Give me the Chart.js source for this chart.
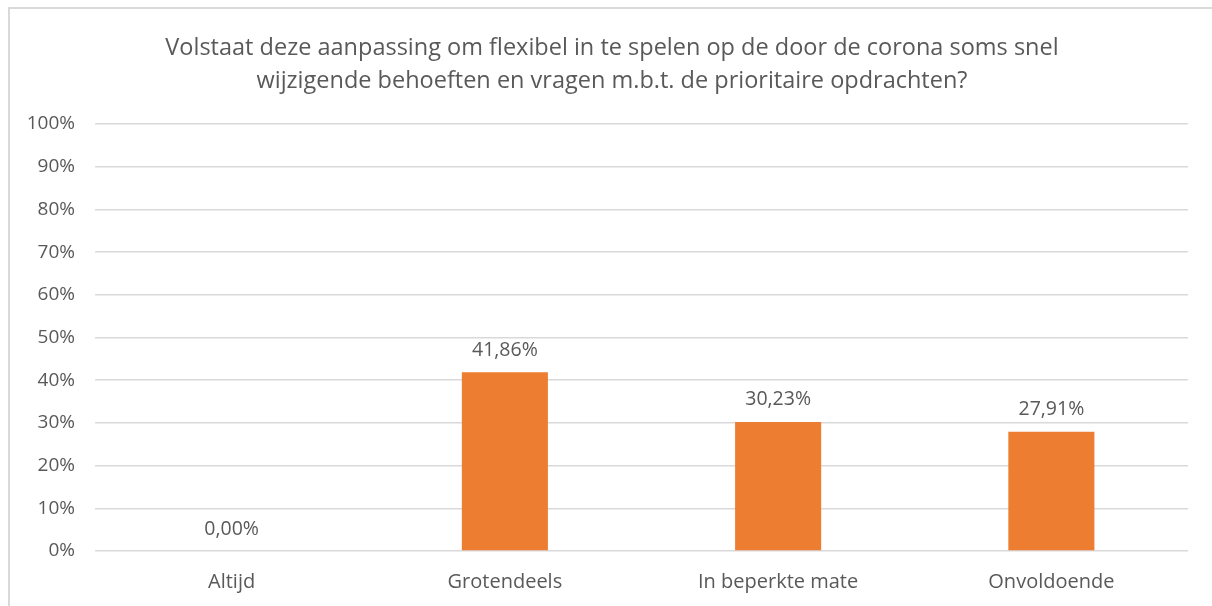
<!DOCTYPE html>
<html>
<head>
<meta charset="utf-8">
<script src="https://cdn.jsdelivr.net/npm/chart.js@4"></script>
<style>
    html, body { margin: 0; padding: 0; background: #fff; overflow: hidden; }
    #frame {
        position: absolute; left: 8px; top: 7px;
        width: 1240px; height: 640px;
        border: 2px solid #d9d9d9;
    }
    #chart { position: absolute; left: 0; top: 0; }
    #title {
        position: absolute; left: 0; top: 30px; width: 1224px;
        text-align: center;
        font-family: 'Open Sans'; font-size: 23.5px; line-height: 33px;
        color: #595959;
    }
</style>
</head>
<body>
<div id="frame"></div>
<canvas id="chart" width="1212" height="606"></canvas>
<div id="title"></div>
<script>
// =============================
// Chart data
// =============================
const titleLines = [
    'Volstaat deze aanpassing om flexibel in te spelen op de door de corona soms snel',
    'wijzigende behoeften en vragen m.b.t. de prioritaire opdrachten?'
];
const categories = ['Altijd', 'Grotendeels', 'In beperkte mate', 'Onvoldoende'];
const percentages = [0.00, 41.86, 30.23, 27.91];
const yTicks = [0, 10, 20, 30, 40, 50, 60, 70, 80, 90, 100];

const FONT = "'Open Sans'";
const TEXT = '#595959';

// Title as real text, one line per entry
document.getElementById('title').innerHTML = titleLines.join('<br>');

// Formats 41.86 -> "41,86%"
const pct = v => v.toFixed(2).replace('.', ',') + '%';

// Draws the value above every bar
const barLabels = {
    id: 'barLabels',
    afterDatasetsDraw(chart) {
        const ctx = chart.ctx;
        const meta = chart.getDatasetMeta(0);
        ctx.save();
        ctx.font = '19.5px ' + FONT;
        ctx.fillStyle = TEXT;
        ctx.textAlign = 'center';
        ctx.textBaseline = 'middle';
        meta.data.forEach((bar, i) => {
            ctx.fillText(pct(percentages[i]), bar.x, bar.y - 22);
        });
        ctx.restore();
    }
};

const ctx = document.getElementById('chart').getContext('2d');
new Chart(ctx, {
    type: 'bar',
    data: {
        labels: categories,
        datasets: [{
            data: percentages,
            backgroundColor: '#ED7D31',
            barPercentage: 0.315,
            categoryPercentage: 1
        }]
    },
    options: {
        responsive: false,
        animation: false,
        layout: { padding: { left: 0, right: 24, top: 124, bottom: 0 } },
        plugins: {
            legend: { display: false },
            tooltip: { enabled: false },
            title: { display: false }
        },
        scales: {
            x: {
                grid: { display: false, drawTicks: false },
                border: { display: false },
                ticks: { color: TEXT, font: { family: FONT, size: 20 }, padding: 19 },
                afterFit(scale) { scale.height = 55; }
            },
            y: {
                min: 0,
                max: 100,
                afterBuildTicks(scale) { scale.ticks = yTicks.map(v => ({ value: v })); },
                grid: { color: '#d9d9d9', lineWidth: 1.5, drawTicks: false },
                border: { display: false },
                ticks: {
                    color: TEXT,
                    font: { family: FONT, size: 19 },
                    padding: 20,
                    callback: v => v + '%'
                },
                afterFit(scale) { scale.width = 95; }
            }
        }
    },
    plugins: [barLabels]
});
</script>
</body>
</html>
